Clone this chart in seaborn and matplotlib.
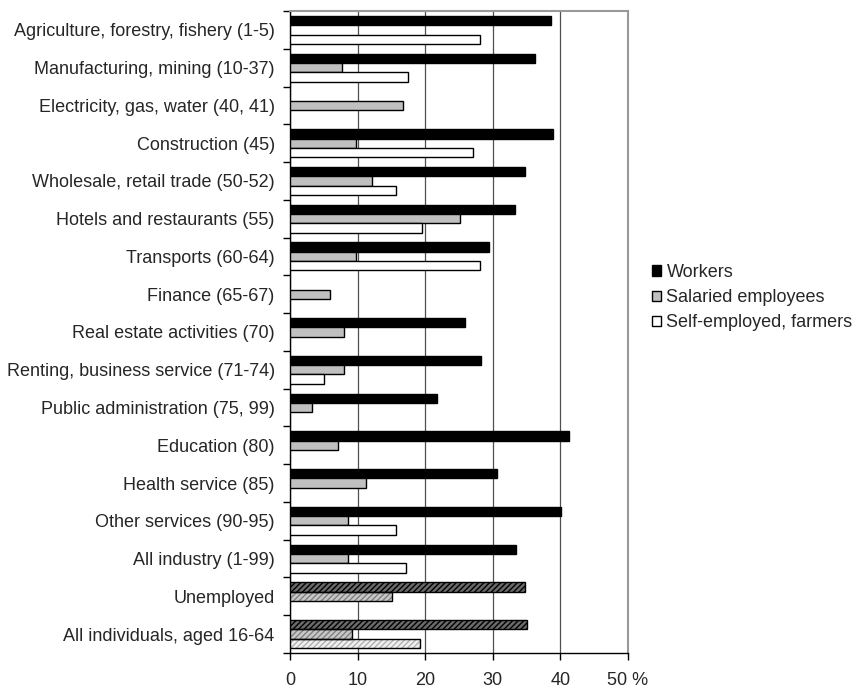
import numpy as np
import pandas as pd
import matplotlib
matplotlib.use("Agg")
import matplotlib.pyplot as plt
from matplotlib.patches import Rectangle
from matplotlib.ticker import FixedLocator
import seaborn as sns

# data (percent)
categories = [
    "Agriculture, forestry, fishery (1-5)",
    "Manufacturing, mining (10-37)",
    "Electricity, gas, water (40, 41)",
    "Construction (45)",
    "Wholesale, retail trade (50-52)",
    "Hotels and restaurants (55)",
    "Transports (60-64)",
    "Finance (65-67)",
    "Real estate activities (70)",
    "Renting, business service (71-74)",
    "Public administration (75, 99)",
    "Education (80)",
    "Health service (85)",
    "Other services (90-95)",
    "All industry (1-99)",
    "Unemployed",
    "All individuals, aged 16-64",
]
groups = ["Workers", "Salaried employees", "Self-employed, farmers"]
workers = [38.6, 36.2, np.nan, 38.9, 34.8, 33.3, 29.4, np.nan, 25.9, 28.2,
           21.7, 41.3, 30.6, 40.1, 33.5, 34.7, 35.0]
salaried = [np.nan, 7.7, 16.7, 9.8, 12.1, 25.1, 9.8, 5.9, 8.0, 8.0,
            3.3, 7.1, 11.3, 8.6, 8.6, 15.1, 9.2]
self_employed = [28.1, 17.5, np.nan, 27.0, 15.7, 19.6, 28.1, np.nan, np.nan, 5.0,
                 np.nan, np.nan, np.nan, 15.7, 17.2, np.nan, 19.2]
hatched_rows = ["Unemployed", "All individuals, aged 16-64"]
x_ticks = [0, 10, 20, 30, 40, 50]
x_tick_labels = ["0", "10", "20", "30", "40", "50 %"]

df = pd.DataFrame({
    "category": categories * 3,
    "group": np.repeat(groups, len(categories)),
    "value": workers + salaried + self_employed,
}).dropna()

sns.set_style("white")
plt.rcParams["font.family"] = ["Liberation Sans", "DejaVu Sans"]

fig = plt.figure(figsize=(8.56, 6.91), dpi=100)
ax = fig.add_axes([290 / 856, 1 - 653 / 691, 338 / 856, 642 / 691])

palette = {"Workers": "black", "Salaried employees": "#c0c0c0",
           "Self-employed, farmers": "white"}
sns.barplot(data=df, y="category", x="value", hue="group", order=categories,
            hue_order=groups, palette=palette, orient="h", width=0.74, gap=0,
            errorbar=None, edgecolor="black", linewidth=1.0, saturation=1,
            ax=ax, zorder=3)

# hatched fills for the two bottom rows
hatch_style = {
    "Workers": ("#6a6a6a", "black"),
    "Salaried employees": ("#c8c8c8", "#808080"),
    "Self-employed, farmers": ("#f0f0f0", "#b0b0b0"),
}
for grp, cont in zip(groups, ax.containers):
    for bar in cont:
        row = int(round(bar.get_y() + bar.get_height() / 2))
        if categories[row] in hatched_rows:
            face, hc = hatch_style[grp]
            bar.set_facecolor(face)
            bar.set_edgecolor(hc)
            bar.set_hatch("//////")
            bar.set_linewidth(0)
            ax.add_patch(Rectangle(bar.get_xy(), bar.get_width(), bar.get_height(),
                                   fill=False, edgecolor="black", linewidth=1.0,
                                   zorder=4))

ax.set_xlim(0, 50)
ax.set_ylim(len(categories) - 0.5, -0.5)
ax.set_xticks(x_ticks)
ax.set_xticklabels(x_tick_labels, fontsize=13)
ax.set_ylabel("")
ax.set_xlabel("")
ax.tick_params(axis="y", which="major", length=0, labelsize=13, pad=11)
ax.yaxis.set_minor_locator(FixedLocator(np.arange(-0.5, len(categories), 1)))
ax.tick_params(axis="y", which="minor", left=True, length=5, width=1, color="black")
ax.tick_params(axis="x", which="major", bottom=True, length=5, width=1,
               color="black", labelsize=13, pad=9)

ax.grid(axis="x", color="#505050", linewidth=0.9, zorder=0)
ax.set_axisbelow(True)
for side in ["left", "bottom"]:
    ax.spines[side].set_color("black")
    ax.spines[side].set_linewidth(1.0)
for side in ["top", "right"]:
    ax.spines[side].set_color("#999999")
    ax.spines[side].set_linewidth(1.5)

handles, labels = ax.get_legend_handles_labels()
ax.legend(handles, labels, loc="upper left",
          bbox_to_anchor=(652 / 856, 1 - 264 / 691), bbox_transform=fig.transFigure,
          frameon=False, fontsize=13, handlelength=0.5, handleheight=0.5,
          handletextpad=0.3, labelspacing=0.45, borderpad=0, borderaxespad=0)

fig.savefig("out.png", dpi=100)
